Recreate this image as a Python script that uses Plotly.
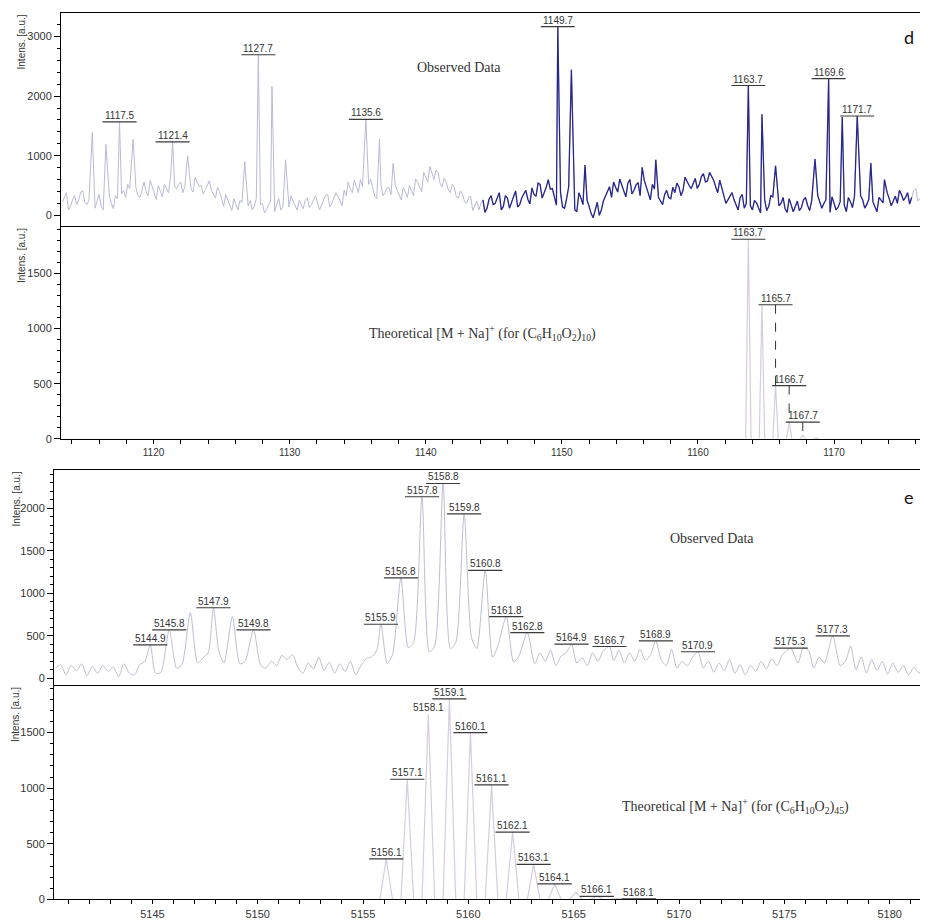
import numpy as np
import plotly.graph_objects as go

# ---------------- DATA ----------------
# Panel d, observed spectrum: baseline readings on a 0.3 m/z grid from 1113.3
d_grid_start, d_grid_step = 1113.3, 0.3
d_noise = [
    220, 380, 150, 330, 260, 410, 180, 300, 120, 350,
    90, 270, 200, 330, 240, 420, 520, 380, 470, 300,
    560, 330, 480, 270, 420, 520, 380, 600, 450, 560,
    480, 620, 390, 560, 500, 430, 580, 350, 470, 280,
    350, 180, 280, 90, 220, 30, 250, 150, 60, 200,
    100, 240, 60, 280, 130, 210, 330, 160, 250, 110,
    290, 180, 330, 90, 260, 350, 200, 380, 250, 420,
    560, 380, 470, 600, 340, 520, 450, 280, 540, 380,
    460, 300, 420, 260, 380, 500, 330, 560, 400, 650,
    820, 600, 720, 480, 560, 380, 470, 290, 350, 200,
    320, 160, 90, 260, 120, 330, 200, 380, 150, 290,
    230, 410, 180, 350, 270, 460, 320, 520, 380, 600,
    450, 170, 380, 120, 480, 320, 60, 290, 400, 150,
    -40, 220, 90, 330, 480, 560, 390, 520, 310, 600,
    420, 550, 370, 480, 260, 440, 300, 180, 420, 280,
    380, 480, 420, 560, 450, 620, 520, 700, 580, 660,
    480, 590, 350, 260, 380, 180, 300, 120, 240, 90,
    210, 40, 260, 150, 310, -20, 200, 110, 280, 60,
    240, 130, 300, 80, 190, 330, 120, 260, 50, 200,
    140, 280, 60, 230, 320, 100, 260, 180, 350, 130,
    300, 210, 380, 160, 320, 420, 250, 380, 300, 450,
    280, 390, 220,
]
# readings half-way between the grid points above (m/z 1113.45, 1113.75, ...)
d_noise_mid = [
    300, 90, 260, 180, 390, 220, 250, 60, 240, 150,
    150, 320, 110, 280, 360, 300, 450, 560, 330, 420,
    400, 590, 350, 500, 310, 450, 650, 480, 520, 380,
    560, 450, 640, 480, 360, 520, 420, 290, 400, 150,
    270, 80, 190, 250, 120, 160, 90, 280, 180, 40,
    170, 20, 190, 90, 320, 140, 230, 90, 180, 260,
    130, 260, 210, 180, 340, 140, 290, 310, 160, 330,
    450, 590, 380, 480, 420, 610, 320, 450, 330, 470,
    350, 520, 330, 470, 300, 420, 610, 470, 720, 560,
    700, 760, 540, 620, 430, 520, 310, 410, 230, 300,
    80, 240, 200, 50, 270, 180, 290, 90, 330, 120,
    330, 140, 290, 420, 190, 350, 540, 290, 470, 440,
    300, 260, 140, 280, 210, 90, 380, 180, 260, 30,
    120, 0, 240, 410, 300, 470, 610, 430, 540, 360,
    510, 330, 590, 390, 520, 350, 240, 350, 300, 470,
    540, 330, 640, 500, 540, 450, 650, 560, 720, 590,
    380, 450, 200, 330, 260, 90, 350, 200, 160, 250,
    120, 230, 80, 330, 110, 160, 300, 50, 180, 150,
    80, 260, 170, 240, 60, 230, 200, 100, 310, 90,
    230, 170, 300, 130, 200, 330, 120, 270, 230, 60,
    250, 120, 280, 240, 200, 350, 300, 190, 410, 240,
    330, 170,
]
# Panel d, observed peaks (m/z, intensity)
d_peak_mz = [1115.5, 1116.5, 1117.5, 1118.5, 1121.4, 1122.5, 1126.7, 1127.7, 1128.7,
             1129.7, 1135.6, 1136.6, 1137.6, 1149.7, 1150.7, 1151.7, 1155.9, 1156.9,
             1163.7, 1164.7, 1165.7, 1168.6, 1169.6, 1170.6, 1171.7, 1172.7, 1173.7]
d_peak_int = [1389, 1189, 1567, 1278, 1233, 1000, 900, 2694, 2167,
              933, 1611, 1278, 872, 3167, 2444, 844, 806, 933,
              2178, 1694, 833, 944, 2294, 1650, 1667, 878, 600]
d_obs_labels = ["1117.5", "1121.4", "1127.7", "1135.6", "1149.7", "1163.7", "1169.6", "1171.7"]
d_dark_range = [1144.2, 1175.8]

# Panel d, theoretical isotope pattern
d_theo_mz = [1163.7, 1164.7, 1165.7, 1166.7, 1167.7, 1168.7]
d_theo_int = [1808, 1215, 483, 151, 30, 10]
d_theo_labels = ["1163.7", "1165.7", "1166.7", "1167.7"]
d_theo_leader = [False, True, True, True]

# Panel e, observed spectrum: baseline readings on a 0.25 m/z grid from 5140.4
e_grid_start, e_grid_step = 5140.4, 0.25
e_noise = [
    120, 160, 40, 150, 90, 170, 30, 140, 60, 150,
    80, 130, 20, 170, 60, 40, 160, 200, 380, 60,
    70, 260, 300, 120, 160, 320, 300, 180, 240, 300,
    400, 320, 180, 380, 300, 170, 200, 330, 350, 150,
    120, 200, 150, 270, 220, 280, 130, 60, 180, 110,
    250, 90, 190, 60, 170, 80, 200, 40, 150, 230,
    250, 330, 600, 170, 280, 900, 900, 360, 420, 1500,
    1500, 310, 380, 1500, 1500, 350, 420, 1500, 1500, 480,
    350, 1000, 1000, 250, 380, 600, 600, 190, 260, 450,
    450, 170, 300, 200, 330, 150, 260, 300, 380, 180,
    240, 150, 300, 200, 320, 370, 210, 330, 180, 300,
    200, 340, 210, 280, 440, 220, 150, 340, 120, 200,
    150, 250, 310, 120, 200, 70, 180, 90, 220, 60,
    160, 40, 150, 80, 200, 110, 230, 150, 270, 200,
    350, 180, 360, 330, 120, 250, 180, 350, 500, 150,
    200, 380, 100, 250, 60, 220, 90, 200, 50, 180,
    70, 150, 40, 130, 60, 140, 90,
]
e_peak_mz = [5144.9, 5145.8, 5146.8, 5147.9, 5148.15, 5148.8, 5149.8, 5155.85, 5156.8,
             5157.8, 5158.8, 5159.8, 5160.8, 5161.8, 5162.8, 5164.9, 5166.7, 5168.9,
             5170.9, 5175.3, 5177.3]
e_peak_int = [394, 570, 772, 830, 330, 725, 570, 636, 1181,
              2137, 2293, 1935, 1271, 725, 538, 402, 374, 441,
              312, 355, 499]
e_obs_labels = ["5144.9", "5145.8", "5147.9", "5149.8", "5155.9", "5156.8", "5157.8",
                "5158.8", "5159.8", "5160.8", "5161.8", "5162.8", "5164.9", "5166.7",
                "5168.9", "5170.9", "5175.3", "5177.3"]

# Panel e, theoretical isotope pattern
e_theo_mz = [5156.1, 5157.1, 5158.1, 5159.1, 5160.1, 5161.1, 5162.1, 5163.1,
             5164.1, 5165.1, 5166.1, 5167.1, 5168.1]
e_theo_int = [365, 1080, 1663, 1803, 1500, 1029, 604, 315, 140, 65, 28, 10, 4]
e_theo_labels = ["5156.1", "5157.1", "5158.1", "5159.1", "5160.1", "5161.1",
                 "5162.1", "5163.1", "5164.1", "5166.1", "5168.1"]
e_theo_no_underline = ["5158.1"]

# ---------------- HELPERS ----------------
# the page body has an 8px default margin, so the figure is drawn 8px in
OFF = 8
W, H = 928 - OFF, 920 - OFF


def px(x):
    return (x - OFF) / W


def py(y):
    return 1 - (y - OFF) / H


def merge(xs, base, pk_mz, pk_int, gap):
    pts = []
    for x, y in zip(xs, base):
        if min(abs(x - p) for p in pk_mz) >= gap:
            pts.append((float(x), y))
    pts += list(zip(pk_mz, pk_int))
    pts.sort()
    return [p[0] for p in pts], [p[1] for p in pts]


def sticks(mz, inten, hw):
    xs, ys = [], []
    for m, h in zip(mz, inten):
        xs += [m - hw, m, m + hw, None]
        ys += [0, h, 0, None]
    return xs, ys


def nearest(mz_list, val):
    return int(np.argmin([abs(m - val) for m in mz_list]))


LIGHT_D = "#b9b9d9"
DARK_D = "#27278c"
LIGHT_E = "#bdbdd3"
THEO = "#d6cce0"
TXT = "#333333"
SANS = "Liberation Sans, Arial, sans-serif"
SERIF = "Liberation Serif, Times New Roman, serif"

fig = go.Figure()

# d observed
d_grid = np.round(d_grid_start + d_grid_step * np.arange(len(d_noise)), 3)
d_mid = np.round(d_grid_start + d_grid_step / 2 + d_grid_step * np.arange(len(d_noise_mid)), 3)
dx, dy = merge(list(d_grid) + list(d_mid), d_noise + d_noise_mid, d_peak_mz, d_peak_int, 0.1)
fig.add_trace(go.Scatter(x=dx, y=dy, mode="lines", line=dict(color=LIGHT_D, width=1),
                         xaxis="x", yaxis="y", hoverinfo="skip"))
dkx = [x for x in dx if d_dark_range[0] <= x <= d_dark_range[1]]
dky = [y for x, y in zip(dx, dy) if d_dark_range[0] <= x <= d_dark_range[1]]
fig.add_trace(go.Scatter(x=dkx, y=dky, mode="lines", line=dict(color=DARK_D, width=1.3),
                         xaxis="x", yaxis="y", hoverinfo="skip"))

# d theoretical
tx, ty = sticks(d_theo_mz, d_theo_int, 0.2)
fig.add_trace(go.Scatter(x=tx, y=ty, mode="lines", line=dict(color=THEO, width=1.2),
                         xaxis="x2", yaxis="y2", hoverinfo="skip"))

# e observed
e_grid = np.round(e_grid_start + e_grid_step * np.arange(len(e_noise)), 3)
ex, ey = merge(list(e_grid), e_noise, e_peak_mz, e_peak_int, 0.18)
fig.add_trace(go.Scatter(x=ex, y=ey, mode="lines", line=dict(color=LIGHT_E, width=1,
                                                              shape="spline", smoothing=0.7),
                         xaxis="x3", yaxis="y3", hoverinfo="skip"))

# e theoretical
tx, ty = sticks(e_theo_mz, e_theo_int, 0.3)
fig.add_trace(go.Scatter(x=tx, y=ty, mode="lines", line=dict(color=THEO, width=1.2),
                         xaxis="x4", yaxis="y4", hoverinfo="skip"))

annotations = []
shapes = []


def label(text, x, y, xr, yr, hw, underline=True):
    annotations.append(dict(x=x, y=y, xref=xr, yref=yr, text=text, showarrow=False,
                            xanchor="center", yanchor="bottom", yshift=-1,
                            font=dict(family=SANS, size=10, color=TXT)))
    if underline:
        shapes.append(dict(type="line", xref=xr, yref=yr, x0=x - hw, x1=x + hw,
                           y0=y, y1=y, line=dict(color="#3a3a3a", width=1.2)))


for t in d_obs_labels:
    i = nearest(d_peak_mz, float(t))
    label(t, d_peak_mz[i], d_peak_int[i], "x", "y", 1.25)

for t, lead in zip(d_theo_labels, d_theo_leader):
    i = nearest(d_theo_mz, float(t))
    ly = d_theo_int[i - 1] if lead else d_theo_int[i]
    label(t, d_theo_mz[i], ly, "x2", "y2", 1.25)
    if lead:
        shapes.append(dict(type="line", xref="x2", yref="y2", x0=d_theo_mz[i], x1=d_theo_mz[i],
                           y0=ly, y1=d_theo_int[i], line=dict(color="#333", width=1, dash="dash")))

for t in e_obs_labels:
    i = nearest(e_peak_mz, float(t))
    label(t, e_peak_mz[i], e_peak_int[i], "x3", "y3", 0.81)

for t in e_theo_labels:
    i = nearest(e_theo_mz, float(t))
    label(t, e_theo_mz[i], e_theo_int[i], "x4", "y4", 0.81, underline=t not in e_theo_no_underline)


def ptext(text, x, y, size, family, xanchor="center", yanchor="middle", angle=0, color=TXT):
    annotations.append(dict(x=px(x), y=py(y), xref="paper", yref="paper", text=text,
                            showarrow=False, xanchor=xanchor, yanchor=yanchor, textangle=angle,
                            font=dict(family=family, size=size, color=color)))


ptext("Observed Data", 459, 68, 14, SERIF)
ptext("Theoretical [M + Na]<sup>+</sup> (for (C<sub>6</sub>H<sub>10</sub>O<sub>2</sub>)<sub>10</sub>)",
      482, 335, 14, SERIF)
ptext("Observed Data", 712, 542, 14, SERIF)
ptext("Theoretical [M + Na]<sup>+</sup> (for (C<sub>6</sub>H<sub>10</sub>O<sub>2</sub>)<sub>45</sub>)",
      735, 811, 14, SERIF)
ptext("d", 909, 37, 18, "Lato, Open Sans, sans-serif", color="#111")
ptext("e", 909, 500, 18, "Lato, Open Sans, sans-serif", color="#111")
for (xx, yy) in [(21, 13), (21, 228), (16, 473), (15, 690)]:
    ptext("Intens. [a.u.]", xx, yy, 10, SANS, yanchor="top", angle=-90)

tickfont = dict(family=SANS, size=11, color=TXT)
common = dict(showgrid=False, zeroline=False, showline=True, linecolor="black", linewidth=1)


def yax(dom, rng, dtick, minor, anchor):
    return dict(domain=dom, range=rng, anchor=anchor, dtick=dtick, tick0=0, ticks="outside",
                ticklen=6, tickcolor="black", tickfont=tickfont,
                minor=dict(dtick=minor, tick0=0, ticks="outside", ticklen=3, tickcolor="black"),
                **common)


def xtop(dom, rng, anchor):
    return dict(domain=dom, range=rng, anchor=anchor, mirror=True, ticks="",
                showticklabels=False, **common)


def xbot(dom, rng, anchor, dtick, tick0, minor, size):
    return dict(domain=dom, range=rng, anchor=anchor, dtick=dtick, tick0=tick0, ticks="outside",
                ticklen=4, tickcolor="black", tickfont=dict(family=SANS, size=size, color=TXT),
                minor=dict(dtick=minor, tick0=tick0, ticks="outside", ticklen=4, tickcolor="black"),
                **common)


d_xr = [1113.2, 1176.9]
e_xr = [5140.33, 5181.82]
d_dom = [px(61), 1]
e_dom = [px(54), 1]

fig.update_layout(
    width=W, height=H, margin=dict(l=0, r=0, t=0, b=0),
    paper_bgcolor="white", plot_bgcolor="white", showlegend=False,
    xaxis=xtop(d_dom, d_xr, "y"),
    yaxis=yax([py(227.7), py(13.3)], [-183, 3390], 1000, 200, "x"),
    xaxis2=xbot(d_dom, d_xr, "y2", 10, 1120, 2, 10),
    yaxis2=yax([py(441.7), py(227.7)], [0, 1926], 500, 100, "x2"),
    xaxis3=xtop(e_dom, e_xr, "y3"),
    yaxis3=yax([py(689.3), py(473.3)], [-77, 2449], 500, 100, "x3"),
    xaxis4=xbot(e_dom, e_xr, "y4", 5, 5145, 1, 11),
    yaxis4=yax([py(905.3), py(689.3)], [0, 1929], 500, 100, "x4"),
    annotations=annotations, shapes=shapes,
)

fig.write_html("out.html")
